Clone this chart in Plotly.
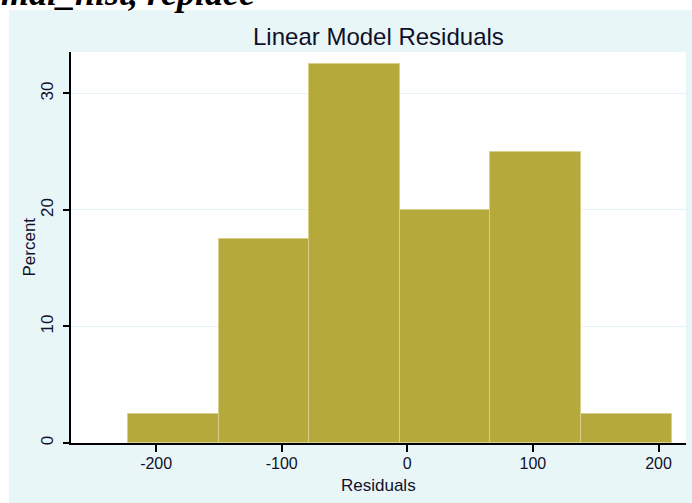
import plotly.graph_objects as go

# ---- data ----
bin_edges = [-222.4, -150.3, -78.1, -6.0, 66.2, 138.3, 210.5]
percent = [2.5, 17.5, 32.5, 20.0, 25.0, 2.5]
x_tickvals = [-200, -100, 0, 100, 200]
x_ticktext = ["-200", "-100", "0", "100", "200"]
y_tickvals = [0, 10, 20, 30]
y_ticktext = ["0", "10", "20", "30"]
title_text = "Linear Model Residuals"
x_title = "Residuals"
y_title = "Percent"
caption_text = "normal_hist, replace"

centers = [(a + b) / 2 for a, b in zip(bin_edges[:-1], bin_edges[1:])]
widths = [b - a for a, b in zip(bin_edges[:-1], bin_edges[1:])]

BG = "#e9f6f8"
TXT = "#10102a"
FONT = "Liberation Sans, Arial, sans-serif"

# plot area in pixels
L, R, T, B = 71, 686, 52, 443
W, H = 692, 503
PW, PH = R - L, B - T


def px_x(px):
    return (px - L) / PW


def px_y(py):
    return (B - py) / PH


fig = go.Figure()
fig.add_trace(go.Bar(
    x=centers, y=percent, width=widths,
    marker=dict(color="#b6a93b", line=dict(color="#d8cf8a", width=1)),
    hoverinfo="skip",
))

fig.update_layout(
    width=W, height=H,
    margin=dict(l=L, r=W - R, t=T, b=H - B, pad=0),
    paper_bgcolor=BG,
    plot_bgcolor="white",
    showlegend=False,
    bargap=0,
    font=dict(family=FONT, color=TXT, size=17),
    xaxis=dict(
        range=[-267.8, 221.9], tickvals=x_tickvals, ticktext=x_ticktext,
        ticks="outside", ticklen=7, tickwidth=2, tickcolor="black",
        showline=True, linecolor="black", linewidth=2,
        showgrid=False, zeroline=False,
        ticklabelstandoff=-2,
        tickfont=dict(family=FONT, size=16, color=TXT),
    ),
    yaxis=dict(
        range=[0, 33.56], tickvals=y_tickvals, ticktext=y_ticktext,
        tickangle=-90,
        ticks="outside", ticklen=6, tickwidth=2, tickcolor="black",
        showline=True, linecolor="black", linewidth=2,
        showgrid=True, gridcolor="#e4f3f6", gridwidth=1, zeroline=False,
        ticklabelstandoff=3,
        tickfont=dict(family=FONT, size=17, color=TXT),
    ),
    shapes=[
        # white strip at top and left (outside the bluish graph region)
        dict(type="rect", xref="paper", yref="paper", layer="below",
             x0=px_x(-5), x1=px_x(W + 5), y0=px_y(10), y1=px_y(-5),
             fillcolor="white", line=dict(width=0)),
        dict(type="rect", xref="paper", yref="paper", layer="below",
             x0=px_x(-5), x1=px_x(9), y0=px_y(W + 5), y1=px_y(-5),
             fillcolor="white", line=dict(width=0)),
    ],
    annotations=[
        dict(text=title_text, xref="paper", yref="paper",
             x=0.5, y=px_y(36.5), xanchor="center", yanchor="middle",
             showarrow=False, font=dict(family=FONT, size=24, color=TXT)),
        dict(text=x_title, xref="paper", yref="paper",
             x=0.5, y=px_y(485), xanchor="center", yanchor="middle",
             showarrow=False, font=dict(family=FONT, size=17, color=TXT)),
        dict(text=y_title, xref="paper", yref="paper", textangle=-90,
             x=px_x(28.5), y=px_y(247), xanchor="center", yanchor="middle",
             showarrow=False, font=dict(family=FONT, size=17, color=TXT)),
        dict(text=caption_text, xref="paper", yref="paper",
             x=px_x(257), y=px_y(15), xanchor="right", yanchor="bottom",
             showarrow=False,
             font=dict(family="Liberation Serif, Times New Roman, serif",
                       size=36, color="black", weight="bold", style="italic")),
    ],
)

fig.write_html("out.html")
